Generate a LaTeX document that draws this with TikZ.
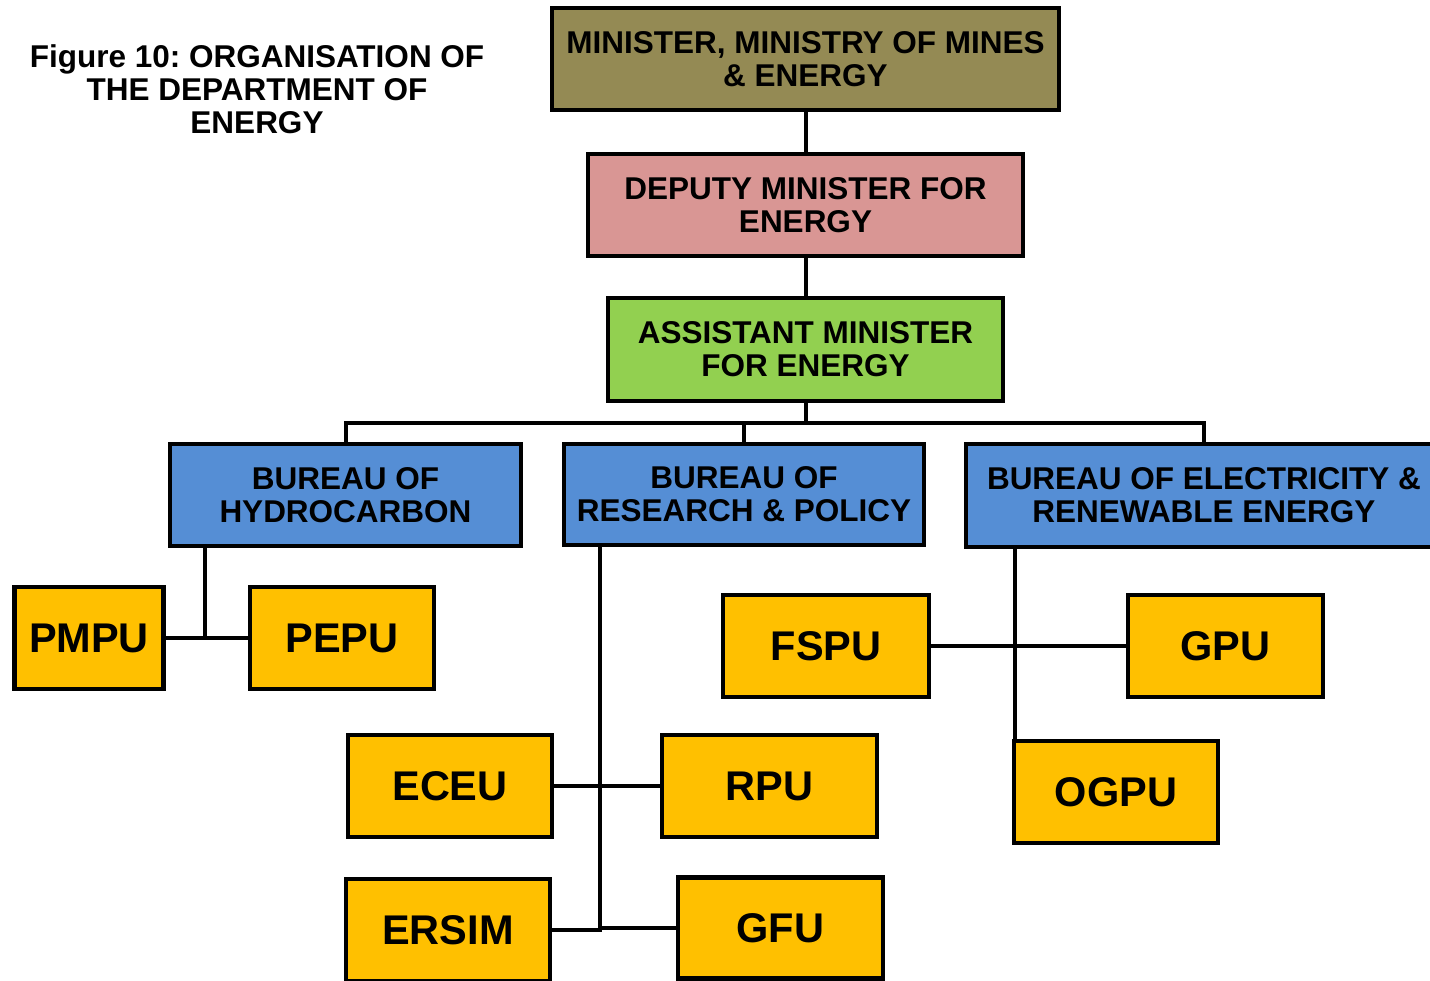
\documentclass[tikz,border=0pt]{standalone}
\usepackage{fontspec}
\setmainfont{Liberation Sans}
\frenchspacing
\definecolor{cMin}{HTML}{948A54}
\definecolor{cDep}{HTML}{D99694}
\definecolor{cAss}{HTML}{92D050}
\definecolor{cBur}{HTML}{558ED5}
\definecolor{cUnit}{HTML}{FFC000}
\tikzset{
  box/.style={draw=black, line width=4.5pt, rectangle, inner sep=0pt, align=center,
    font=\fontsize{31.5}{33}\selectfont\bfseries},
  unitbox/.style={box, fill=cUnit, minimum height=102pt,
    font=\fontsize{41.5}{44}\selectfont\bfseries},
  burbox/.style={box, fill=cBur},
  conn/.style={draw=black, line width=4pt}
}
\begin{document}
\begin{tikzpicture}[x=1pt,y=-1pt]
\clip (0,0) rectangle (1430,981);
\fill[white] (0,0) rectangle (1430,981);

\node[inner sep=0pt, align=center, font=\fontsize{31.5}{33}\selectfont\bfseries] (title) at (257,89)
  {Figure 10: ORGANISATION OF\\THE DEPARTMENT OF\\ENERGY};

\node[box, fill=cMin, minimum width=507pt, minimum height=102pt] (min) at (805.5,59)
  {MINISTER, MINISTRY OF MINES\\\& ENERGY};
\node[box, fill=cDep, minimum width=435pt, minimum height=102pt] (dep) at (805.5,205)
  {DEPUTY MINISTER FOR\\ENERGY};
\node[box, fill=cAss, minimum width=395pt, minimum height=103pt] (ass) at (805.5,349.5)
  {ASSISTANT MINISTER\\FOR ENERGY};

\node[burbox, minimum width=351pt, minimum height=102pt] (hyd) at (345.5,495)
  {BUREAU OF\\HYDROCARBON};
\node[burbox, minimum width=360pt, minimum height=101pt] (res) at (744,494.5)
  {BUREAU OF\\RESEARCH \& POLICY};
\node[burbox, minimum width=476pt, minimum height=103pt] (ele) at (1204,495.5)
  {BUREAU OF ELECTRICITY \&\\RENEWABLE ENERGY};

\node[unitbox, minimum width=149pt] (pmpu) at (89,638) {PMPU};
\node[unitbox, minimum width=184pt] (pepu) at (342,638) {PEPU};
\node[unitbox, minimum width=206pt] (fspu) at (826,646) {FSPU};
\node[unitbox, minimum width=195pt] (gpu) at (1225.5,646) {GPU};
\node[unitbox, minimum width=204pt] (ogpu) at (1116,792) {OGPU};
\node[unitbox, minimum width=204pt] (eceu) at (450,786) {ECEU};
\node[unitbox, minimum width=215pt] (rpu) at (769.5,786) {RPU};
\node[unitbox, minimum width=204pt] (ersim) at (448,930) {ERSIM};
\node[unitbox, minimum width=205pt, minimum height=101pt] (gfu) at (780.5,928) {GFU};

\coordinate (bus) at (805.5,423);
\coordinate (hx) at (205,546);
\coordinate (rx) at (600,545);
\coordinate (ex) at (1015,547);

\draw[conn] (min.south) -- (dep.north);
\draw[conn] (dep.south) -- (ass.north);
\draw[conn] (ass.south) -- (bus);
\draw[conn] (hyd.north) |- (bus) -| (ele.north);
\draw[conn] (res.north) -- (res.north |- bus);

\draw[conn] (hx) |- (pepu.west);
\draw[conn] (pmpu.east) -- (pepu.west);

\draw[conn] (rx) |- (ersim.east);
\draw[conn] (eceu.east) -- (rpu.west);
\draw[conn] (rx |- gfu.west) -- (gfu.west);

\draw[conn] (ex) -- (ex |- ogpu.north);
\draw[conn] (fspu.east) -- (gpu.west);
\end{tikzpicture}
\end{document}
